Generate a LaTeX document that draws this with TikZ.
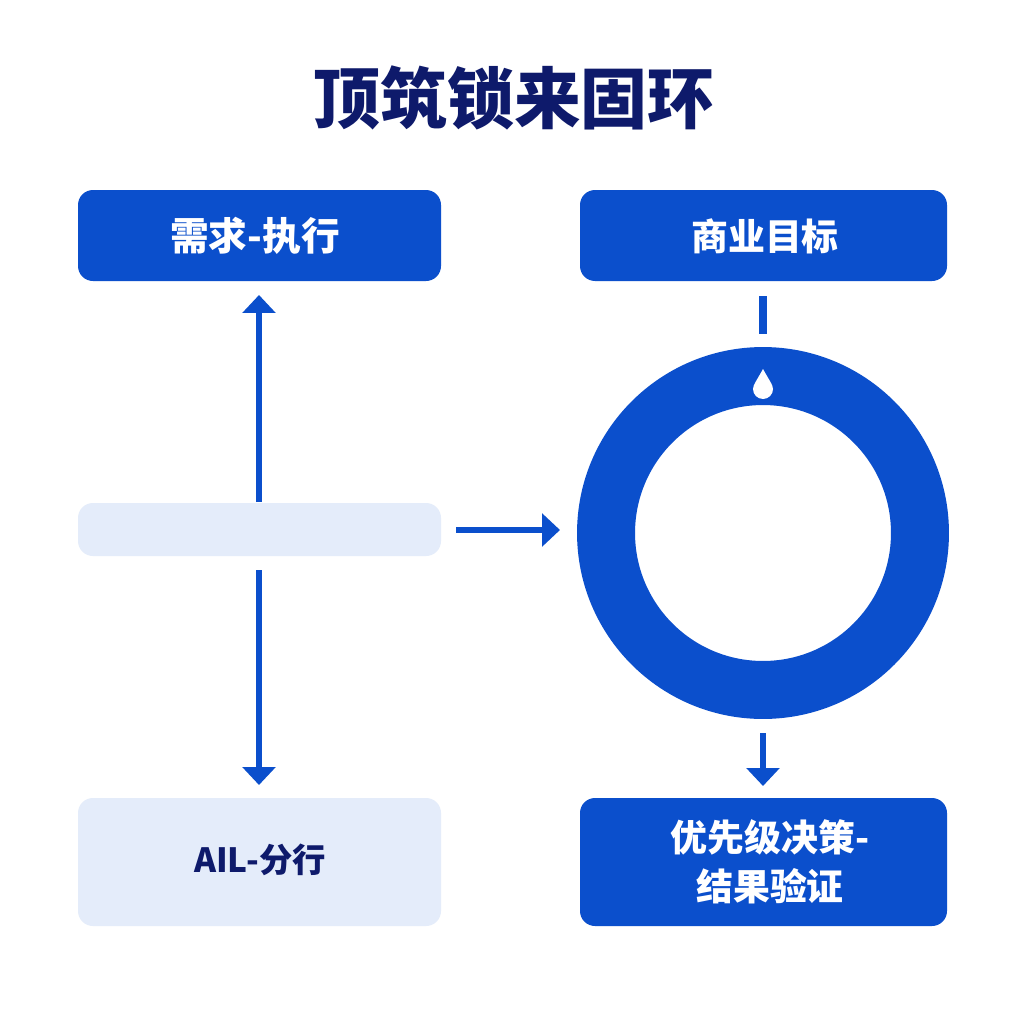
\documentclass[tikz,border=0pt]{standalone}
\usepackage{fontspec}
\setmainfont{Noto Sans CJK SC}
\usetikzlibrary{arrows.meta}
\definecolor{bl}{HTML}{0B4FCC}
\definecolor{lt}{HTML}{E4ECFA}
\definecolor{nv}{HTML}{0E1A6B}
\begin{document}
\begin{tikzpicture}[x=0.02cm,y=-0.02cm,
  box/.style={rounded corners=0.3cm,inner sep=0},
  arr/.style={bl,line width=1.3mm,-{Triangle[length=3.6mm,width=6.5mm]}}]
\useasboundingbox[fill=white] (0,0) rectangle (1024,1024);
\node[nv,font=\fontsize{38}{38}\selectfont\bfseries] (t) at (514,98) {顶筑锁来固环};
\fill[bl,box] (78,190) rectangle (441,281);
\node[white,font=\fontsize{22}{22}\selectfont\bfseries] (a) at (255,236) {需求-执行};
\fill[bl,box] (580,190) rectangle (947,281);
\node[white,font=\fontsize{21}{21}\selectfont\bfseries] (b) at (765,236) {商业目标};
\fill[lt,box] (78,503) rectangle (441,556);
\coordinate (m) at (259,530);
\fill[lt,box] (78,798) rectangle (441,926);
\node[nv,font=\fontsize{19}{19}\selectfont\bfseries] (c) at (260,860) {AIL-分行};
\fill[bl,box] (580,798) rectangle (947,926);
\node[white,font=\fontsize{21}{28}\selectfont\bfseries,align=center] (d) at (770,862) {优先级决策-\\结果验证};
\fill[bl,even odd rule] (763,533) circle[radius=3.72cm] (763,533) circle[radius=2.56cm];
\fill[white] (763,369) .. controls (757,380) and (753,385) .. (753,389) arc[start angle=180,end angle=360,radius=0.2cm] .. controls (773,385) and (769,380) .. (763,369);
\draw[arr] (259,502) -- (259,295);
\draw[arr] (259,570) -- (259,785);
\draw[arr] (456,530) -- (560,530);
\draw[bl,line width=1.6mm] (763,296) -- (763,334);
\draw[arr] (763,733) -- (763,786);
\end{tikzpicture}
\end{document}
